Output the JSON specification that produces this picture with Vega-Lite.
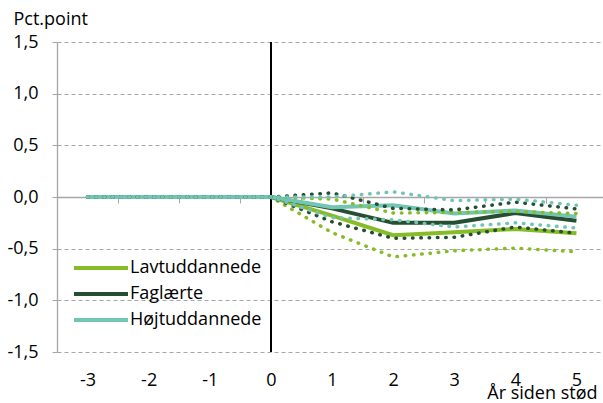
{
  "$schema": "https://vega.github.io/schema/vega-lite/v6.json",
  "width": 550,
  "height": 310,
  "autosize": {"type": "none"},
  "padding": {"left": 57, "top": 42, "right": 0, "bottom": 51},
  "background": "white",
  "config": {
    "font": "Open Sans",
    "view": {"stroke": null},
    "axis": {"labelFont": "Open Sans", "titleFont": "Open Sans", "labelColor": "#000000", "titleColor": "#000000", "titleFontWeight": "normal"}
  },
  "data": {"values": [
    {"aar": -3, "gruppe": "Lavtuddannede", "serie": "est", "vaerdi": 0},
    {"aar": -2, "gruppe": "Lavtuddannede", "serie": "est", "vaerdi": 0},
    {"aar": -1, "gruppe": "Lavtuddannede", "serie": "est", "vaerdi": 0},
    {"aar": 0, "gruppe": "Lavtuddannede", "serie": "est", "vaerdi": 0},
    {"aar": 1, "gruppe": "Lavtuddannede", "serie": "est", "vaerdi": -0.18},
    {"aar": 2, "gruppe": "Lavtuddannede", "serie": "est", "vaerdi": -0.37},
    {"aar": 3, "gruppe": "Lavtuddannede", "serie": "est", "vaerdi": -0.34},
    {"aar": 4, "gruppe": "Lavtuddannede", "serie": "est", "vaerdi": -0.31},
    {"aar": 5, "gruppe": "Lavtuddannede", "serie": "est", "vaerdi": -0.35},
    {"aar": -3, "gruppe": "Lavtuddannede", "serie": "upper", "vaerdi": 0},
    {"aar": -2, "gruppe": "Lavtuddannede", "serie": "upper", "vaerdi": 0},
    {"aar": -1, "gruppe": "Lavtuddannede", "serie": "upper", "vaerdi": 0},
    {"aar": 0, "gruppe": "Lavtuddannede", "serie": "upper", "vaerdi": 0},
    {"aar": 1, "gruppe": "Lavtuddannede", "serie": "upper", "vaerdi": -0.02},
    {"aar": 2, "gruppe": "Lavtuddannede", "serie": "upper", "vaerdi": -0.155},
    {"aar": 3, "gruppe": "Lavtuddannede", "serie": "upper", "vaerdi": -0.15},
    {"aar": 4, "gruppe": "Lavtuddannede", "serie": "upper", "vaerdi": -0.14},
    {"aar": 5, "gruppe": "Lavtuddannede", "serie": "upper", "vaerdi": -0.16},
    {"aar": -3, "gruppe": "Lavtuddannede", "serie": "lower", "vaerdi": 0},
    {"aar": -2, "gruppe": "Lavtuddannede", "serie": "lower", "vaerdi": 0},
    {"aar": -1, "gruppe": "Lavtuddannede", "serie": "lower", "vaerdi": 0},
    {"aar": 0, "gruppe": "Lavtuddannede", "serie": "lower", "vaerdi": 0},
    {"aar": 1, "gruppe": "Lavtuddannede", "serie": "lower", "vaerdi": -0.345},
    {"aar": 2, "gruppe": "Lavtuddannede", "serie": "lower", "vaerdi": -0.58},
    {"aar": 3, "gruppe": "Lavtuddannede", "serie": "lower", "vaerdi": -0.52},
    {"aar": 4, "gruppe": "Lavtuddannede", "serie": "lower", "vaerdi": -0.495},
    {"aar": 5, "gruppe": "Lavtuddannede", "serie": "lower", "vaerdi": -0.53},
    {"aar": -3, "gruppe": "Faglærte", "serie": "est", "vaerdi": 0},
    {"aar": -2, "gruppe": "Faglærte", "serie": "est", "vaerdi": 0},
    {"aar": -1, "gruppe": "Faglærte", "serie": "est", "vaerdi": 0},
    {"aar": 0, "gruppe": "Faglærte", "serie": "est", "vaerdi": 0},
    {"aar": 1, "gruppe": "Faglærte", "serie": "est", "vaerdi": -0.11},
    {"aar": 2, "gruppe": "Faglærte", "serie": "est", "vaerdi": -0.25},
    {"aar": 3, "gruppe": "Faglærte", "serie": "est", "vaerdi": -0.25},
    {"aar": 4, "gruppe": "Faglærte", "serie": "est", "vaerdi": -0.155},
    {"aar": 5, "gruppe": "Faglærte", "serie": "est", "vaerdi": -0.23},
    {"aar": -3, "gruppe": "Faglærte", "serie": "upper", "vaerdi": 0},
    {"aar": -2, "gruppe": "Faglærte", "serie": "upper", "vaerdi": 0},
    {"aar": -1, "gruppe": "Faglærte", "serie": "upper", "vaerdi": 0},
    {"aar": 0, "gruppe": "Faglærte", "serie": "upper", "vaerdi": 0},
    {"aar": 1, "gruppe": "Faglærte", "serie": "upper", "vaerdi": 0.04},
    {"aar": 2, "gruppe": "Faglærte", "serie": "upper", "vaerdi": -0.11},
    {"aar": 3, "gruppe": "Faglærte", "serie": "upper", "vaerdi": -0.125},
    {"aar": 4, "gruppe": "Faglærte", "serie": "upper", "vaerdi": -0.05},
    {"aar": 5, "gruppe": "Faglærte", "serie": "upper", "vaerdi": -0.115},
    {"aar": -3, "gruppe": "Faglærte", "serie": "lower", "vaerdi": 0},
    {"aar": -2, "gruppe": "Faglærte", "serie": "lower", "vaerdi": 0},
    {"aar": -1, "gruppe": "Faglærte", "serie": "lower", "vaerdi": 0},
    {"aar": 0, "gruppe": "Faglærte", "serie": "lower", "vaerdi": 0},
    {"aar": 1, "gruppe": "Faglærte", "serie": "lower", "vaerdi": -0.24},
    {"aar": 2, "gruppe": "Faglærte", "serie": "lower", "vaerdi": -0.4},
    {"aar": 3, "gruppe": "Faglærte", "serie": "lower", "vaerdi": -0.39},
    {"aar": 4, "gruppe": "Faglærte", "serie": "lower", "vaerdi": -0.29},
    {"aar": 5, "gruppe": "Faglærte", "serie": "lower", "vaerdi": -0.35},
    {"aar": -3, "gruppe": "Højtuddannede", "serie": "est", "vaerdi": 0},
    {"aar": -2, "gruppe": "Højtuddannede", "serie": "est", "vaerdi": 0},
    {"aar": -1, "gruppe": "Højtuddannede", "serie": "est", "vaerdi": 0},
    {"aar": 0, "gruppe": "Højtuddannede", "serie": "est", "vaerdi": 0},
    {"aar": 1, "gruppe": "Højtuddannede", "serie": "est", "vaerdi": -0.1},
    {"aar": 2, "gruppe": "Højtuddannede", "serie": "est", "vaerdi": -0.08},
    {"aar": 3, "gruppe": "Højtuddannede", "serie": "est", "vaerdi": -0.16},
    {"aar": 4, "gruppe": "Højtuddannede", "serie": "est", "vaerdi": -0.13},
    {"aar": 5, "gruppe": "Højtuddannede", "serie": "est", "vaerdi": -0.19},
    {"aar": -3, "gruppe": "Højtuddannede", "serie": "upper", "vaerdi": 0},
    {"aar": -2, "gruppe": "Højtuddannede", "serie": "upper", "vaerdi": 0},
    {"aar": -1, "gruppe": "Højtuddannede", "serie": "upper", "vaerdi": 0},
    {"aar": 0, "gruppe": "Højtuddannede", "serie": "upper", "vaerdi": 0},
    {"aar": 1, "gruppe": "Højtuddannede", "serie": "upper", "vaerdi": 0.0},
    {"aar": 2, "gruppe": "Højtuddannede", "serie": "upper", "vaerdi": 0.05},
    {"aar": 3, "gruppe": "Højtuddannede", "serie": "upper", "vaerdi": -0.035},
    {"aar": 4, "gruppe": "Højtuddannede", "serie": "upper", "vaerdi": -0.02},
    {"aar": 5, "gruppe": "Højtuddannede", "serie": "upper", "vaerdi": -0.08},
    {"aar": -3, "gruppe": "Højtuddannede", "serie": "lower", "vaerdi": 0},
    {"aar": -2, "gruppe": "Højtuddannede", "serie": "lower", "vaerdi": 0},
    {"aar": -1, "gruppe": "Højtuddannede", "serie": "lower", "vaerdi": 0},
    {"aar": 0, "gruppe": "Højtuddannede", "serie": "lower", "vaerdi": 0},
    {"aar": 1, "gruppe": "Højtuddannede", "serie": "lower", "vaerdi": -0.2},
    {"aar": 2, "gruppe": "Højtuddannede", "serie": "lower", "vaerdi": -0.22},
    {"aar": 3, "gruppe": "Højtuddannede", "serie": "lower", "vaerdi": -0.29},
    {"aar": 4, "gruppe": "Højtuddannede", "serie": "lower", "vaerdi": -0.25},
    {"aar": 5, "gruppe": "Højtuddannede", "serie": "lower", "vaerdi": -0.3}
  ]},
  "layer": [
    {
      "mark": {"type": "rule", "color": "#000000", "strokeWidth": 1.3},
      "encoding": {
        "x": {"datum": 0, "type": "quantitative", "scale": {"domain": [-3.5, 5.5], "nice": false, "zero": false}, "axis": null}
      }
    },
    {
      "transform": [{"filter": "datum.serie === 'est'"}],
      "mark": {"type": "line", "strokeWidth": 4},
      "encoding": {
        "x": {"field": "aar", "type": "quantitative", "scale": {"domain": [-3.5, 5.5], "nice": false, "zero": false},
          "axis": {"orient": "bottom", "values": [-3, -2, -1, 0, 1, 2, 3, 4, 5], "domain": false, "ticks": false, "grid": false,
            "labelExpr": "(datum.value < 0 ? '-' : '') + abs(datum.value)", "labelFontSize": 18, "labelPadding": 19,
            "labelFlush": false, "labelOverlap": false,
            "title": "År siden stød", "titleFontSize": 18, "titleX": 540, "titleY": 46, "titleAlign": "right", "titleBaseline": "alphabetic", "titleAnchor": null}},
        "y": {"field": "vaerdi", "type": "quantitative", "scale": {"domain": [-1.5, 1.5], "nice": false, "zero": false},
          "axis": {"values": [-1.5, -1, -0.5, 0, 0.5, 1, 1.5], "domain": true, "domainColor": "#a6a6a6", "domainWidth": 1.3,
            "ticks": true, "tickColor": "#a6a6a6", "tickSize": 5, "labelPadding": 14, "labelFontSize": 18,
            "labelExpr": "(datum.value < 0 ? '-' : '') + replace(format(abs(datum.value), '.1f'), '.', ',')",
            "grid": true, "gridColor": "#a6a6a6", "gridDash": [4, 3], "gridWidth": 1,
            "title": "Pct.point", "titleAngle": 0, "titleFontSize": 18, "titleX": -44, "titleY": -18, "titleAlign": "left", "titleBaseline": "alphabetic"}},
        "color": {"field": "gruppe", "type": "nominal",
          "scale": {"domain": ["Lavtuddannede", "Faglærte", "Højtuddannede"], "range": ["#86BC25", "#264F32", "#71C5B5"]},
          "legend": {"orient": "none", "legendX": 31, "legendY": 213, "title": null, "symbolType": "M-2.5,0H2.5", "symbolSize": 467,
            "symbolStrokeWidth": 4, "labelFontSize": 18, "labelFont": "Open Sans", "labelColor": "#000000", "labelOffset": 16, "rowPadding": 4, "padding": 0}}
      }
    },
    {
      "transform": [{"filter": "datum.serie !== 'est'"}],
      "mark": {"type": "line", "strokeWidth": 3.5, "strokeDash": [0.5, 7.8], "strokeCap": "round"},
      "encoding": {
        "x": {"field": "aar", "type": "quantitative", "scale": {"domain": [-3.5, 5.5], "nice": false, "zero": false},
          "axis": {"orient": "bottom", "offset": -155, "values": [-2.5, -1.5, -0.5, 0.5, 1.5, 2.5, 3.5, 4.5], "labels": false,
            "domain": true, "domainColor": "#a6a6a6", "domainWidth": 1.5, "ticks": true, "tickColor": "#a6a6a6", "tickSize": 6, "tickWidth": 1,
            "grid": false, "title": null}},
        "y": {"field": "vaerdi", "type": "quantitative"},
        "color": {"field": "gruppe", "type": "nominal", "legend": null},
        "detail": {"field": "serie", "type": "nominal"}
      }
    }
  ],
  "resolve": {"axis": {"x": "independent"}}
}
